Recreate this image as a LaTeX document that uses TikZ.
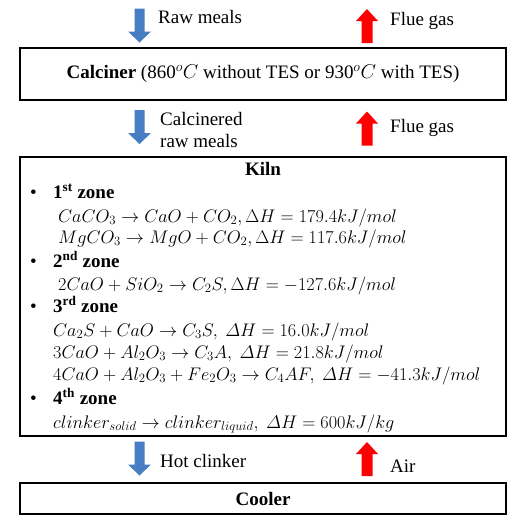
\RequirePackage{fix-cm}
\documentclass[tikz,border=0pt]{standalone}
\usepackage{amsmath}
\usepackage{fontspec}
\setmainfont{Liberation Serif}
\newfontfamily\tnr{Liberation Serif}
\definecolor{arrblue}{RGB}{70,125,195}
\definecolor{arrred}{RGB}{255,0,0}
\newcommand\eqfont{\fontsize{18.2}{22}\selectfont}
\begin{document}
\begin{tikzpicture}[x=1pt,y=-1pt,
  every node/.style={inner sep=0pt, font=\tnr\fontsize{19}{22}\selectfont},
  box/.style={draw, line width=1.6pt, minimum width=486pt},
  lbl/.style={anchor=base west},
  eq/.style={anchor=base west, font=\eqfont},
  downblk/.pic={\fill[arrblue] (-5,-17) -- (5,-17) -- (5,6) -- (11.5,6) -- (0,17) -- (-11.5,6) -- (-5,6) -- cycle;},
  upblk/.pic={\fill[arrred] (-5.5,17) -- (5.5,17) -- (5.5,-5) -- (11,-5) -- (0,-17) -- (-11,-5) -- (-5.5,-5) -- cycle;}]
\useasboundingbox (0,0) rectangle (521,523);
% boxes
\node[box, minimum height=52pt] (calciner) at (263,74) {\textbf{Calciner} (860{\fontsize{20}{22}\selectfont$^{o}C$} without TES or 930{\fontsize{20}{22}\selectfont$^{o}C$} with TES)};
\node[box, minimum height=279pt, anchor=north] (kiln) at (263,156) {};
\node[box, minimum height=31pt] (cooler) at (263,498.5) {\textbf{Cooler}};
% arrows
\pic at (139.5,25.5) {downblk};
\pic at (367,26) {upblk};
\pic at (139.5,127) {downblk};
\pic at (367,128.5) {upblk};
\pic at (139.5,458.5) {downblk};
\pic at (367,459) {upblk};
% labels
\node[lbl] (raw) at (158,23) {Raw meals};
\node[lbl] (flue1) at (390,25) {Flue gas};
\node[lbl] (calc1) at (160,125) {Calcinered};
\node[lbl] (calc2) at (160,147) {raw meals};
\node[lbl] (flue2) at (390,132) {Flue gas};
\node[lbl] (hot) at (160,467) {Hot clinker};
\node[lbl] (air) at (390,472) {Air};
% kiln content
\node[anchor=base] (kt) at (263,175) {\textbf{Kiln}};
\node[lbl] (b1) at (30,198) {\textbullet};
\node[lbl] (z1) at (53,198) {\textbf{1\textsuperscript{st} zone}};
\node[eq] (e1) at (58,222) {$CaCO_3 \rightarrow CaO + CO_2, \Delta H = 179.4kJ/mol$};
\node[eq] (e2) at (58,243) {$MgCO_3 \rightarrow MgO + CO_2, \Delta H = 117.6kJ/mol$};
\node[lbl] (b2) at (30,267) {\textbullet};
\node[lbl] (z2) at (53,267) {\textbf{2\textsuperscript{nd} zone}};
\node[eq] (e3) at (58,290) {$2CaO + SiO_2 \rightarrow C_2S, \Delta H = -127.6kJ/mol$};
\node[lbl] (b3) at (30,312) {\textbullet};
\node[lbl] (z3) at (53,312) {\textbf{3\textsuperscript{rd} zone}};
\node[eq] (e4) at (53,336) {$Ca_2S + CaO \rightarrow C_3S,\ \varDelta H = 16.0kJ/mol$};
\node[eq] (e5) at (53,358) {$3CaO + Al_2O_3 \rightarrow C_3A,\ \varDelta H = 21.8kJ/mol$};
\node[eq] (e6) at (53,380) {$4CaO + Al_2O_3 + Fe_2O_3 \rightarrow C_4AF,\ \varDelta H = -41.3kJ/mol$};
\node[lbl] (b4) at (30,404) {\textbullet};
\node[lbl] (z4) at (53,404) {\textbf{4\textsuperscript{th} zone}};
\node[eq] (e7) at (53,428) {$clinker_{solid} \rightarrow clinker_{liquid},\ \varDelta H = 600kJ/kg$};
\end{tikzpicture}
\end{document}
